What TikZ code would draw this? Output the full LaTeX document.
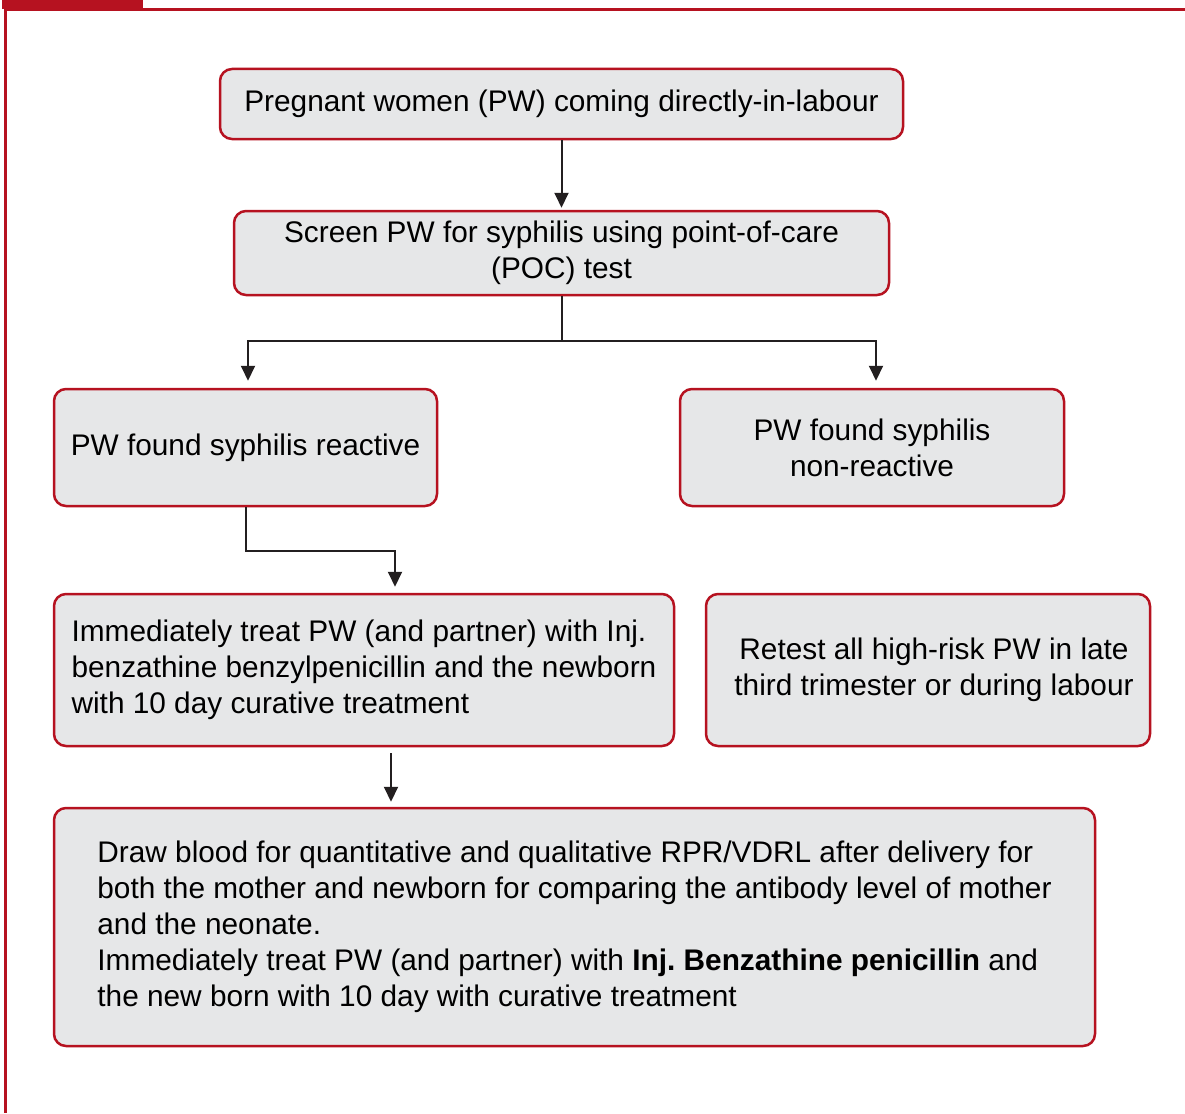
\documentclass[tikz,border=0pt]{standalone}
\usepackage{fontspec}
\setmainfont{Liberation Sans}
\usetikzlibrary{arrows.meta}

\definecolor{boxred}{RGB}{182,18,32}
\definecolor{boxgray}{RGB}{230,231,232}
\definecolor{linegray}{RGB}{35,31,32}

\frenchspacing

\begin{document}
\begin{tikzpicture}[x=1pt, y=-1pt]

	\tikzstyle{box} = [draw=boxred, fill=boxgray, line width=2.5pt, rounded corners=12pt, inner sep=0pt, font=\fontsize{29.8}{36}\selectfont]
	\tikzstyle{flow} = [draw=linegray, line width=2pt, -{Triangle[width=14pt,length=15pt]}]
	\tikzstyle{frame} = [draw=boxred, line width=3pt]

	\useasboundingbox (0,0) rectangle (1185,1113);

%------------------------------------------------------------
	\fill[boxred] (2,0) rectangle (143,9);
	\draw[frame] (1185,9.5) -- (5.5,9.5) -- (5.5,1113);

%------------------------------------------------------------
	\node[box, minimum width=683, minimum height=70, align=center] (labour) at (561.5,104) {Pregnant women (PW) coming directly-in-labour};
	\node[box, minimum width=655, minimum height=84, align=center] (screen) at (561.5,253) {Screen PW for syphilis using point-of-care\\(POC) test};

%------------------------------------------------------------
	\node[box, minimum width=383, minimum height=117, align=center] (reactive) at (245.5,447.5) {PW found syphilis reactive};
	\node[box, minimum width=384, minimum height=117, align=center] (nonreactive) at (872,447.5) {PW found syphilis\\non-reactive};

%------------------------------------------------------------
	\node[box, minimum width=620, minimum height=152, align=left] (treat) at (364,670) {Immediately treat PW (and partner) with Inj.\\benzathine benzylpenicillin and the newborn\\with 10 day curative treatment};
	\node[box, minimum width=444, minimum height=152, align=center] (retest) at (928,670) {\hspace*{12pt}Retest all high-risk PW in late\\\hspace*{12pt}third trimester or during labour};

%------------------------------------------------------------
	\node[box, minimum width=1041, minimum height=238, align=left] (blood) at (574.5,927) {Draw blood for quantitative and qualitative RPR/VDRL after delivery for\\both the mother and newborn for comparing the antibody level of mother\\and the neonate.\\Immediately treat PW (and partner) with \textbf{Inj. Benzathine penicillin} and\\the new born with 10 day with curative treatment};

%------------------------------------------------------------
	\coordinate (split) at (561.5,341);
	\coordinate (bend) at (395,551);

	\draw[flow, shorten >=2pt] (labour) -- (screen);
	\draw[draw=linegray, line width=2pt] (screen.south) -- (split);
	\draw[flow, shorten >=7pt] (split) -| ([xshift=2.5]reactive.north);
	\draw[flow, shorten >=7pt] (split) -| ([xshift=4]nonreactive.north);
	\draw[flow, shorten >=6pt] (reactive.south) |- (bend) -- (bend |- treat.north);
	\draw[flow, shorten <=6pt, shorten >=5pt] ([xshift=27]treat.south) -- ([xshift=27]treat.south |- blood.north);

\end{tikzpicture}
\end{document}
